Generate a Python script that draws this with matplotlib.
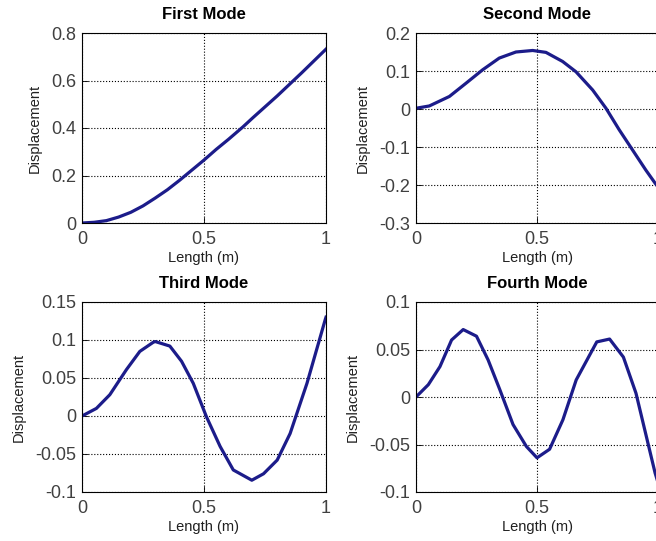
import matplotlib.pyplot as plt

plt.rcParams['font.family'] = ['Liberation Sans', 'DejaVu Sans']

# mode shapes
x1 = [0, 0.05, 0.1, 0.15, 0.2, 0.25, 0.3, 0.35, 0.4, 0.42, 0.5, 0.55, 0.6, 0.66, 0.7,
      0.8, 0.867, 0.9, 1.0]
y1 = [0, 0.003, 0.01, 0.025, 0.045, 0.072, 0.105, 0.14, 0.18, 0.197, 0.265, 0.31, 0.352,
      0.405, 0.443, 0.535, 0.6, 0.632, 0.732]

x2 = [0, 0.055, 0.138, 0.207, 0.275, 0.344, 0.413, 0.482, 0.537, 0.606, 0.661, 0.73,
      0.785, 0.84, 0.895, 0.95, 0.989, 1.0]
y2 = [0.002, 0.008, 0.033, 0.068, 0.103, 0.134, 0.15, 0.154, 0.149, 0.125, 0.098, 0.05,
      0.002, -0.055, -0.108, -0.161, -0.196, -0.205]

x3 = [0, 0.059, 0.114, 0.182, 0.237, 0.292, 0.3, 0.36, 0.408, 0.456, 0.51, 0.566,
      0.62, 0.696, 0.744, 0.8, 0.853, 0.922, 0.997, 1.0]
y3 = [0, 0.01, 0.028, 0.061, 0.085, 0.097, 0.098, 0.092, 0.072, 0.043, -0.001, -0.04,
      -0.071, -0.0845, -0.076, -0.058, -0.023, 0.043, 0.127, 0.13]

x4 = [0, 0.051, 0.099, 0.147, 0.195, 0.25, 0.298, 0.346, 0.401, 0.456, 0.5, 0.552,
      0.607, 0.662, 0.747, 0.8, 0.857, 0.909, 0.988, 1.0]
y4 = [0, 0.013, 0.032, 0.06, 0.071, 0.064, 0.039, 0.008, -0.029, -0.052, -0.064, -0.055,
      -0.024, 0.018, 0.058, 0.061, 0.042, 0.004, -0.08, -0.09]

titles = ['First Mode', 'Second Mode', 'Third Mode', 'Fourth Mode']
ylims = [(0, 0.8), (-0.3, 0.2), (-0.1, 0.15), (-0.1, 0.1)]
yticks = [[0, 0.2, 0.4, 0.6, 0.8],
          [-0.3, -0.2, -0.1, 0, 0.1, 0.2],
          [-0.1, -0.05, 0, 0.05, 0.1, 0.15],
          [-0.1, -0.05, 0, 0.05, 0.1]]
ytick_labels = [['0', '0.2', '0.4', '0.6', '0.8'],
                ['-0.3', '-0.2', '-0.1', '0', '0.1', '0.2'],
                ['-0.1', '-0.05', '0', '0.05', '0.1', '0.15'],
                ['-0.1', '-0.05', '0', '0.05', '0.1']]
xticks = [0, 0.5, 1]
xtick_labels = ['0', '0.5', '1']

fig = plt.figure(figsize=(6.56, 5.41), dpi=100)
W, H = 656, 541
boxes = [(82, 33, 244, 190), (416, 33, 242, 190),
         (82, 302, 244, 190), (416, 302, 242, 190)]
data = [(x1, y1), (x2, y2), (x3, y3), (x4, y4)]

for i in range(4):
    l, t, w, h = boxes[i]
    ax = fig.add_axes([l / W, (H - t - h) / H, w / W, h / H])
    ax.plot(data[i][0], data[i][1], color='#1c1c8a', linewidth=2.3)
    ax.set_xlim(0, 1)
    ax.set_ylim(*ylims[i])
    ax.set_xticks(xticks)
    ax.set_xticklabels(xtick_labels)
    ax.set_yticks(yticks[i])
    ax.set_yticklabels(ytick_labels[i])
    ax.tick_params(direction='in', length=4, width=0.6, labelsize=13,
                   labelcolor='#404040', pad=4)
    ax.tick_params(axis='x', pad=6)
    ax.grid(True, linestyle=':', color='k', linewidth=0.8)
    ax.set_title(titles[i], fontsize=12, fontweight='bold', pad=10)
    ax.set_xlabel('Length (m)', fontsize=10.5, labelpad=2, color='#202020')
    ax.set_ylabel('Displacement', fontsize=10.5, labelpad=7, color='#202020')
    for s in ax.spines.values():
        s.set_linewidth(0.8)

fig.savefig('out.png', dpi=100)
